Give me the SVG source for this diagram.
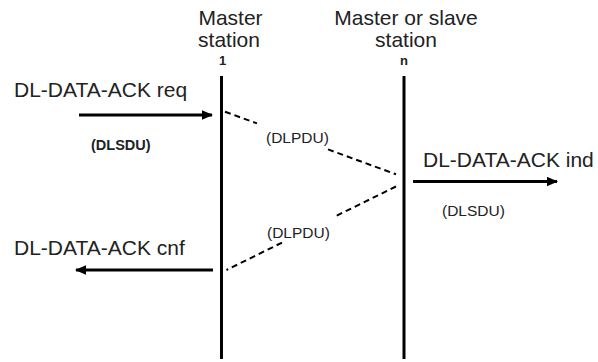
<svg xmlns="http://www.w3.org/2000/svg" width="598" height="362" viewBox="0 0 598 362">
  <style>
    .label { font-family: "Liberation Sans", Arial, sans-serif; fill: #222; }
    .big { font-size: 21px; }
    .small { font-size: 15.5px; }
    .num { font-size: 13px; font-weight: bold; }
    .bold { font-size: 14.5px; font-weight: bold; }
    .life { stroke: #000; stroke-width: 3; fill: none; }
    .prim { stroke: #000; stroke-width: 3; fill: none; }
    .pdu { stroke: #000; stroke-width: 2; stroke-dasharray: 6 4; fill: none; }
  </style>
  <defs>
    <marker id="head" markerUnits="userSpaceOnUse" markerWidth="12" markerHeight="10" refX="10" refY="5" orient="auto">
      <path d="M0,0.3 L11,5 L0,9.7 Z" fill="#000"/>
    </marker>
  </defs>
  <rect width="598" height="362" fill="#fff"/>

  <!-- station 1 -->
  <g id="station-master">
    <text class="label big" x="230.5" y="25" text-anchor="middle">Master</text>
    <text class="label big" x="229" y="47" text-anchor="middle">station</text>
    <text class="label num" x="222.5" y="65" text-anchor="middle">1</text>
    <line class="life" x1="221.5" y1="76" x2="221.5" y2="359"/>
  </g>

  <!-- station n -->
  <g id="station-n">
    <text class="label big" x="406" y="25" text-anchor="middle">Master or slave</text>
    <text class="label big" x="406" y="47" text-anchor="middle">station</text>
    <text class="label num" x="404" y="65" text-anchor="middle">n</text>
    <line class="life" x1="404" y1="76" x2="404" y2="359"/>
  </g>

  <!-- primitive labels -->
  <g id="req">
    <text class="label big" x="14" y="97">DL-DATA-ACK req</text>
    <text class="label bold" x="91" y="150">(DLSDU)</text>
  </g>
  <g id="ind">
    <text class="label big" x="423" y="167">DL-DATA-ACK ind</text>
    <text class="label small" x="442" y="216">(DLSDU)</text>
  </g>
  <g id="cnf">
    <text class="label big" x="14" y="255">DL-DATA-ACK cnf</text>
  </g>
  <g id="pdu-labels">
    <text class="label small" x="266" y="143">(DLPDU)</text>
    <text class="label small" x="267" y="238">(DLPDU)</text>
  </g>

  <!-- connectors -->
  <g id="connectors">
    <line class="prim" x1="79" y1="115" x2="212" y2="115" marker-end="url(#head)"/>
    <line class="prim" x1="413" y1="181.5" x2="557" y2="181.5" marker-end="url(#head)"/>
    <line class="prim" x1="213" y1="270" x2="76" y2="270" marker-end="url(#head)"/>
    <!-- outgoing DLPDU, broken around its label -->
    <line class="pdu" x1="225" y1="111.7" x2="257" y2="123.4"/>
    <line class="pdu" x1="328" y1="149.4" x2="396" y2="174.3"/>
    <!-- returning DLPDU, broken around its label -->
    <line class="pdu" x1="396" y1="186.5" x2="336" y2="216"/>
    <line class="pdu" x1="282" y1="242.6" x2="226.5" y2="270"/>
  </g>
</svg>
